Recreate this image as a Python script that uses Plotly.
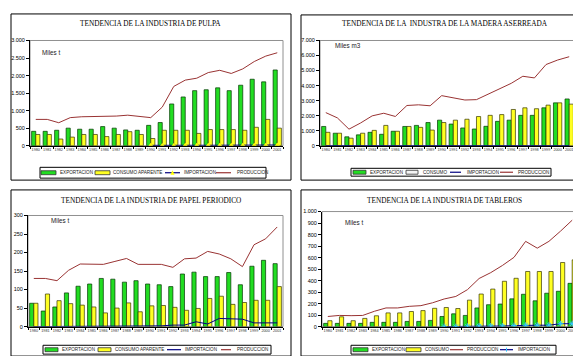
import plotly.graph_objects as go

W, H = 581, 356

years = ["1980", "1981", "1982", "1983", "1984", "1985", "1986", "1987", "1988", "1989", "1990",
         "1991", "1992", "1993", "1994", "1995", "1996", "1997", "1998", "1999", "2000", "2001"]

# --- Pulpa (Miles t)
pulp_exp = [410, 410, 440, 500, 470, 470, 545, 500, 450, 440, 580, 660, 1190, 1390, 1570, 1595, 1650, 1570, 1725, 1895, 1820, 2160]
pulp_cons = [320, 320, 190, 245, 320, 320, 260, 320, 400, 320, 205, 440, 440, 440, 350, 460, 460, 460, 440, 525, 750, 500]
pulp_imp = [None, None, None, None, None, None, None, None, None, None, 10, 5, 5, 10, 12, 12, 12, 12, 12, 15, 15, 20]
pulp_prod = [750, 750, 655, 800, 825, 825, 845, 845, 870, 825, 800, 1100, 1690, 1870, 1925, 2085, 2150, 2060, 2190, 2400, 2555, 2650]

# --- Madera aserrada (Miles m3)
mad_exp = [1280, 830, 590, 720, 890, 760, 960, 1280, 1350, 1540, 1700, 1440, 1180, 1110, 1290, 1620, 1700, 2020, 2020, 2520, 2850, 3110]
mad_cons = [890, 830, 500, 830, 1020, 1350, 960, 1280, 1220, 1040, 1540, 1700, 1760, 1940, 2020, 2070, 2410, 2520, 2460, 2700, 2850, 2765]
mad_imp = [5, 5, 5, 5, 5, 5, 5, 5, 5, 5, 5, 5, 5, 5, 5, 5, 5, 5, 5, 5, 5, 5]
mad_prod = [2200, 1850, 1100, 1510, 1985, 2160, 1945, 2675, 2720, 2655, 3330, 3170, 3040, 3065, 3410, 3760, 4150, 4620, 4510, 5400, 5700, 5920]

# --- Papel periodico (Miles t)
pap_exp = [63, 42, 53, 91, 109, 115, 130, 128, 120, 124, 115, 113, 108, 142, 147, 135, 135, 146, 113, 163, 179, 170]
pap_cons = [63, 88, 70, 62, 58, 53, 37, 50, 64, 40, 56, 57, 52, 44, 49, 76, 82, 60, 65, 71, 71, 108]
pap_imp = [0, 0, 0, 0, 0, 0, 0, 0, 0, 0, 0, 2, 4, 4, 13, 7, 22, 22, 20, 10, 10, 10]
pap_prod = [130, 130, 124, 152, 169, 169, 168, 176, 184, 168, 169, 168, 160, 183, 185, 203, 196, 183, 162, 221, 237, 269]

# --- Tableros (Miles t)
tab_exp = [28, 28, 28, 28, 37, 37, 37, 45, 45, 54, 88, 111, 97, 162, 190, 196, 241, 281, 224, 290, 307, 376]
tab_cons = [51, 85, 51, 71, 94, 119, 119, 131, 139, 159, 166, 157, 230, 283, 326, 394, 420, 479, 479, 479, 557, 580]
tab_prod = [88, 97, 95, 97, 133, 162, 162, 176, 182, 207, 240, 262, 321, 418, 469, 531, 602, 741, 682, 741, 830, 925]
tab_imp = [None, None, None, None, None, None, None, None, None, None, 0, 0, 3, 5, 5, 5, 8, 12, 12, 12, 25, 25]

titles = ["TENDENCIA DE LA INDUSTRIA DE PULPA",
          "TENDENCIA DE LA  INDUSTRA DE LA MADERA ASERREADA",
          "TENDENCIA DE LA INDUSTRIA DE PAPEL PERIODICO",
          "TENDENCIA DE LA INDUSTRIA DE TABLEROS"]
units = ["Miles t", "Miles m3", "Miles t", "Miles t"]

GREEN = "#22dd22"
YELLOW = "#ffff22"
NAVY = "#000080"
RED = "#993333"


def fx(x):
    return x / W


def fy(y):
    return 1 - y / H


panels = [
    dict(ax="", dx=(22, 275), dy=(30, 137), ymax=3000, dtick=500,
         data=(pulp_exp, pulp_cons, pulp_imp, pulp_prod),
         names=("EXPORTACION", "CONSUMO APARENTE", "IMPORTACION", "PRODUCCION"),
         imp_marker=dict(symbol="triangle-up", size=5, color="#ffff00", line=dict(width=0)),
         frame=(3, 3, 283, 172), title_xy=(142, 13), unit_xy=(32, 42)),
    dict(ax="2", dx=(312, 567), dy=(30, 137), ymax=7000, dtick=1000,
         data=(mad_exp, mad_cons, mad_imp, mad_prod),
         names=("EXPORTACION", "CONSUMO", "IMPORTACION", "PRODUCCION"),
         imp_marker=None,
         frame=(293, 4, 578, 172), title_xy=(437, 13), unit_xy=(325, 35)),
    dict(ax="3", dx=(20, 275), dy=(208, 321), ymax=300, dtick=50,
         data=(pap_exp, pap_cons, pap_imp, pap_prod),
         names=("EXPORTACION", "CONSUMO APARENTE", "IMPORTACION", "PRODUCCION"),
         imp_marker=None,
         frame=(3, 182, 283, 351), title_xy=(143, 193), unit_xy=(41, 213)),
    dict(ax="4", dx=(314, 570), dy=(204, 321), ymax=1000, dtick=100,
         data=(tab_exp, tab_cons, tab_imp, tab_prod),
         names=("EXPORTACION", "CONSUMO", "IMPORTACION", "PRODUCCION"),
         imp_marker=dict(symbol="asterisk-open", size=5, color="#33ccff", line=dict(width=1, color="#33ccff")),
         frame=(293, 182, 577, 351), title_xy=(436, 193), unit_xy=(335, 215)),
]

fig = go.Figure()
shapes = []
annotations = []
layout_axes = {}

for idx, p in enumerate(panels):
    a = p["ax"]
    xref = "x" + a
    yref = "y" + a
    exp, cons, imp, prod = p["data"]
    n_exp, n_cons, n_imp, n_prod = p["names"]
    fig.add_trace(go.Bar(x=years, y=exp, name=n_exp, xaxis=xref, yaxis=yref,
                         marker=dict(color=GREEN, line=dict(color="#003300", width=0.7)),
                         showlegend=False))
    fig.add_trace(go.Bar(x=years, y=cons, name=n_cons, xaxis=xref, yaxis=yref,
                         marker=dict(color=YELLOW, line=dict(color="#333300", width=0.7)),
                         showlegend=False))
    imp_kw = dict(mode="lines")
    if p["imp_marker"] is not None:
        imp_kw = dict(mode="lines+markers", marker=p["imp_marker"])
    fig.add_trace(go.Scatter(x=years, y=imp, name=n_imp, xaxis=xref, yaxis=yref,
                             line=dict(color=NAVY, width=1), showlegend=False, **imp_kw))
    fig.add_trace(go.Scatter(x=years, y=prod, name=n_prod, xaxis=xref, yaxis=yref, mode="lines",
                             line=dict(color=RED, width=1), showlegend=False))

    layout_axes["xaxis" + a] = dict(
        domain=[fx(p["dx"][0]), fx(p["dx"][1])], anchor=yref, type="category",
        range=[-0.5, 21.5], tickson="boundaries", ticks="outside", ticklen=2,
        tickcolor="black", showline=True, linecolor="black", linewidth=1,
        tickfont=dict(size=3.8, color="#333333", family="Liberation Sans"),
        tickangle=0, showgrid=False, fixedrange=True)
    layout_axes["yaxis" + a] = dict(
        domain=[fy(p["dy"][1]), fy(p["dy"][0])], anchor=xref,
        range=[0, p["ymax"]], dtick=p["dtick"], tickformat=",d",
        ticks="outside", ticklen=3, tickcolor="black", showline=True,
        linecolor="black", linewidth=1, showgrid=False, zeroline=False,
        tickfont=dict(size=5.5, color="black", family="Liberation Sans"))

    # gray plot-area frame
    shapes.append(dict(type="rect", xref=xref + " domain", yref=yref + " domain",
                       x0=0, x1=1, y0=0, y1=1, line=dict(color="#909090", width=1),
                       layer="below"))
    # outer panel frame
    x0, y0, x1, y1 = p["frame"]
    shapes.append(dict(type="rect", xref="paper", yref="paper", x0=fx(x0), x1=fx(x1),
                       y0=fy(y1), y1=fy(y0), line=dict(color="black", width=1)))
    # title
    annotations.append(dict(text=titles[idx], xref="paper", yref="paper",
                            x=fx(p["title_xy"][0]), y=fy(p["title_xy"][1]),
                            showarrow=False, xanchor="center", yanchor="middle",
                            font=dict(family="Liberation Serif", size=7.3, color="black")))
    # unit label
    annotations.append(dict(text=units[idx], xref="paper", yref="paper",
                            x=fx(p["unit_xy"][0]), y=fy(p["unit_xy"][1]),
                            showarrow=False, xanchor="left", yanchor="middle",
                            font=dict(family="Liberation Sans", size=6.3, color="#222222")))

# ---- legends (drawn as boxes, swatches and text)
legend_specs = [
    dict(box=(32, 159, 258, 170),
         items=[("bar", GREEN, 33, 48, "EXPORTACION", 50),
                ("bar", YELLOW, 87, 102, "CONSUMO APARENTE", 103),
                ("line", NAVY, 157, 172, "IMPORTACION", 174, "tri"),
                ("line", RED, 208, 223, "PRODUCCION", 227)]),
    dict(box=(343, 160, 543, 168),
         items=[("bar", GREEN, 345, 358, "EXPORTACION", 360),
                ("bar", "#f4f4f4", 398, 410, "CONSUMO", 413),
                ("line", NAVY, 442, 453, "IMPORTACION", 457),
                ("line", RED, 492, 505, "PRODUCCION", 508)]),
    dict(box=(35, 340, 263, 349),
         items=[("bar", GREEN, 37, 50, "EXPORTACION", 52),
                ("bar", YELLOW, 90, 103, "CONSUMO APARENTE", 105),
                ("line", NAVY, 159, 173, "IMPORTACION", 175),
                ("line", RED, 213, 223, "PRODUCCION", 227)]),
    dict(box=(343, 340, 548, 349),
         items=[("bar", GREEN, 345, 360, "EXPORTACION", 362),
                ("bar", YELLOW, 398, 413, "CONSUMO", 415),
                ("line", RED, 442, 455, "PRODUCCION", 457),
                ("line", NAVY, 492, 505, "IMPORTACION", 508, "star")]),
]

for spec in legend_specs:
    bx0, by0, bx1, by1 = spec["box"]
    shapes.append(dict(type="rect", xref="paper", yref="paper", x0=fx(bx0), x1=fx(bx1),
                       y0=fy(by1), y1=fy(by0), line=dict(color="black", width=1),
                       fillcolor="white"))
    cy = (by0 + by1) / 2
    for it in spec["items"]:
        kind, col, sx0, sx1, label, tx = it[:6]
        if kind == "bar":
            shapes.append(dict(type="rect", xref="paper", yref="paper", x0=fx(sx0), x1=fx(sx1),
                               y0=fy(cy + 2), y1=fy(cy - 2), fillcolor=col,
                               line=dict(color="#333333", width=0.8)))
        else:
            shapes.append(dict(type="line", xref="paper", yref="paper", x0=fx(sx0), x1=fx(sx1),
                               y0=fy(cy), y1=fy(cy), line=dict(color=col, width=1.2)))
            if len(it) > 6:
                mx = (sx0 + sx1) / 2
                if it[6] == "tri":
                    path = "M %f %f L %f %f L %f %f Z" % (fx(mx - 2), fy(cy + 2), fx(mx + 2), fy(cy + 2), fx(mx), fy(cy - 2.5))
                    shapes.append(dict(type="path", xref="paper", yref="paper", path=path,
                                       fillcolor="#ffff00", line=dict(width=0)))
                else:
                    shapes.append(dict(type="line", xref="paper", yref="paper", x0=fx(mx), x1=fx(mx),
                                       y0=fy(cy - 2), y1=fy(cy + 2), line=dict(color="#33ccff", width=1)))
        annotations.append(dict(text=label, xref="paper", yref="paper", x=fx(tx), y=fy(cy),
                                showarrow=False, xanchor="left", yanchor="middle",
                                font=dict(family="Liberation Sans", size=4.6, color="#222222")))

fig.update_layout(
    width=W, height=H, margin=dict(l=0, r=0, t=0, b=0),
    paper_bgcolor="white", plot_bgcolor="white",
    barmode="group", bargap=0.28, bargroupgap=0.0,
    separators=",.", showlegend=False,
    shapes=shapes, annotations=annotations, **layout_axes)

fig.write_html("out.html")
